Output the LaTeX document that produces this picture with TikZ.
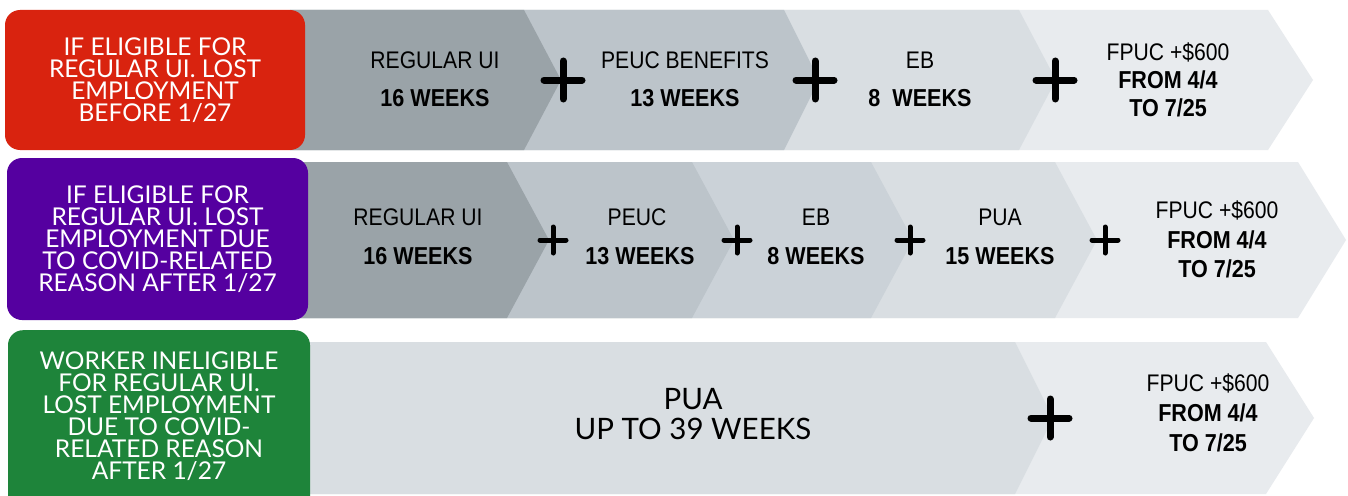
\documentclass[tikz,border=0pt]{standalone}
\usepackage{fontspec}
\setmainfont{Lato}
\newfontfamily\condf[FakeStretch=0.88]{Liberation Sans}
\definecolor{cA}{HTML}{9AA3A8}
\definecolor{cB}{HTML}{BCC4CA}
\definecolor{cBC}{HTML}{CBD2D8}
\definecolor{cC}{HTML}{D9DEE2}
\definecolor{cD}{HTML}{E8EBEE}
\definecolor{redbox}{HTML}{D9230F}
\definecolor{purplebox}{HTML}{5500A0}
\definecolor{greenbox}{HTML}{1E843A}
\tikzset{
  rowbox/.style={rounded corners=15pt, inner sep=0pt, align=center, text=white,
    font=\fontsize{24.5}{22}\selectfont},
  lbl/.style={inner sep=0pt, align=center, text=black, font=\condf\fontsize{24}{26}\selectfont},
  lblb/.style={lbl, font=\condf\bfseries\fontsize{24.5}{26}\selectfont},
  plusbig/.style={line width=7pt, line cap=round, black},
  plussmall/.style={line width=5pt, line cap=round, black},
}
% chevron: color, xstart, xtop, ytop, ybot, depth
\newcommand{\chev}[6]{%
  \fill[#1] (#2,#4) -- (#3,#4) -- ({#3+#6},{(#4+#5)/2}) -- (#3,#5) -- (#2,#5) -- cycle;}
\begin{document}
\begin{tikzpicture}[x=1pt,y=-1pt]
\useasboundingbox (0,0) rectangle (1348,495);
\fill[white] (0,0) rectangle (1348,495);
\clip (0,0) rectangle (1348,495);
% ---------- Row 1 ----------
\chev{cD}{290}{1268}{10}{150}{45}
\chev{cC}{290}{1019}{10}{150}{37}
\chev{cB}{290}{784}{10}{150}{35}
\chev{cA}{290}{524}{10}{150}{37}
\node[rowbox, fill=redbox, minimum width=300pt, minimum height=140pt] (r1) at (155,80)
  {IF ELIGIBLE FOR\\REGULAR UI. LOST\\EMPLOYMENT\\BEFORE 1/27};
\node[lbl]  (r1a) at (435,60) {REGULAR UI};
\node[lblb] (r1b) at (435,98) {16 WEEKS};
\node[lbl]  (r1c) at (685,60) {PEUC BENEFITS};
\node[lblb] (r1d) at (685,98) {13 WEEKS};
\node[lbl]  (r1e) at (920,60) {EB};
\node[lblb] (r1f) at (920,98) {8\ \ WEEKS};
\node[lbl]  (r1g) at (1168,52) {FPUC +\$600};
\node[lblb] (r1h) at (1168,80) {FROM 4/4};
\node[lblb] (r1i) at (1168,108) {TO 7/25};
\draw[plusbig] (544,80) -- (582,80) (563,61) -- (563,99);
\draw[plusbig] (796,80) -- (834,80) (815,61) -- (815,99);
\draw[plusbig] (1036,80) -- (1074,80) (1055,61) -- (1055,99);
% ---------- Row 2 ----------
\chev{cD}{290}{1298}{162}{318}{48}
\chev{cC}{290}{1055}{162}{318}{42}
\chev{cBC}{290}{871}{162}{318}{42}
\chev{cB}{290}{692}{162}{318}{42}
\chev{cA}{290}{507}{162}{318}{42}
\node[rowbox, fill=purplebox, minimum width=301pt, minimum height=162pt] (r2) at (157.5,239)
  {IF ELIGIBLE FOR\\REGULAR UI. LOST\\EMPLOYMENT DUE\\TO COVID-RELATED\\REASON AFTER 1/27};
\node[lbl]  (r2a) at (418,217) {REGULAR UI};
\node[lblb] (r2b) at (418,256) {16 WEEKS};
\node[lbl]  (r2c) at (637,217) {PEUC};
\node[lblb] (r2d) at (640,256) {13 WEEKS};
\node[lbl]  (r2e) at (816,217) {EB};
\node[lblb] (r2f) at (816,256) {8 WEEKS};
\node[lbl]  (r2g) at (1000,217) {PUA};
\node[lblb] (r2h) at (1000,256) {15 WEEKS};
\node[lbl]  (r2i) at (1217,210) {FPUC +\$600};
\node[lblb] (r2j) at (1217,240) {FROM 4/4};
\node[lblb] (r2k) at (1217,269) {TO 7/25};
\draw[plussmall] (540,240) -- (566,240) (553,227) -- (553,253);
\draw[plussmall] (724,240) -- (750,240) (737,227) -- (737,253);
\draw[plussmall] (897,240) -- (923,240) (910,227) -- (910,253);
\draw[plussmall] (1092,240) -- (1118,240) (1105,227) -- (1105,253);
% ---------- Row 3 ----------
\chev{cD}{290}{1266}{342}{494}{48}
\chev{cC}{290}{1015}{342}{494}{38}
\node[rowbox, fill=greenbox, minimum width=302pt, minimum height=190pt, anchor=north] (r3) at (159,330)
  {};
\node[inner sep=0pt, align=center, text=white, font=\fontsize{24.5}{22}\selectfont] (r3t) at (159,416)
  {WORKER INELIGIBLE\\FOR REGULAR UI.\\LOST EMPLOYMENT\\DUE TO COVID-\\RELATED REASON\\AFTER 1/27};
\node[inner sep=0pt, align=center, font=\fontsize{29.5}{30}\selectfont] (r3a) at (693,414)
  {PUA\\UP TO 39 WEEKS};
\node[lbl]  (r3b) at (1208,383) {FPUC +\$600};
\node[lblb] (r3c) at (1208,413) {FROM 4/4};
\node[lblb] (r3d) at (1208,443) {TO 7/25};
\draw[plusbig] (1031,418) -- (1069,418) (1050,399) -- (1050,437);
\end{tikzpicture}
\end{document}
